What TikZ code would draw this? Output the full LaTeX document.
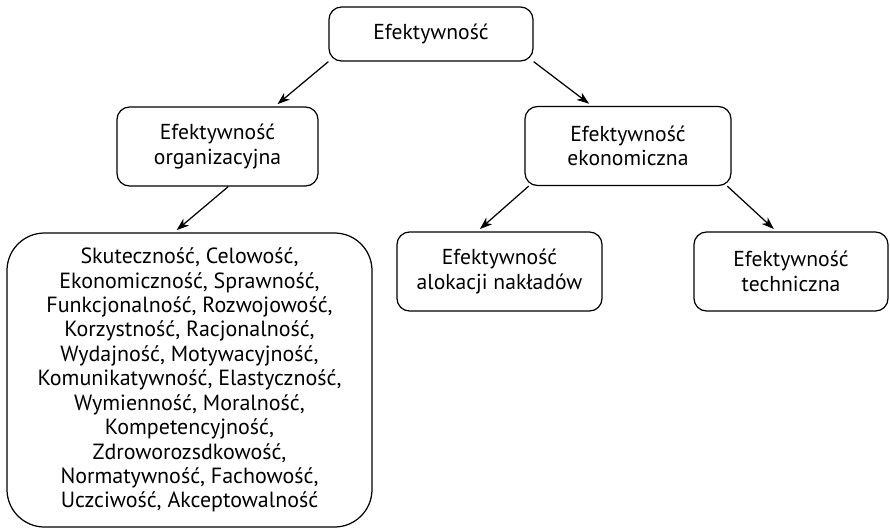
\documentclass[tikz,border=0pt]{standalone}
\usepackage{fontspec}
\setmainfont{PT Sans}
\usetikzlibrary{arrows.meta}
\begin{document}
\begin{tikzpicture}[
		box/.style={draw, line width=0.7pt, rounded corners=0.25cm, align=center, inner sep=0pt,
			minimum width=4.1cm, minimum height=1.58cm, font=\fontsize{12.3}{14}\selectfont},
		>={Stealth[length=7pt, width=5pt, inset=2pt]}
	]
		\useasboundingbox (0,0) rectangle (17.8,-10.58);
		
		\node[box, minimum width=4.08cm, minimum height=1.08cm] (ef) at (8.62,-0.68) {Efektywność};
		\node[box, minimum width=4.02cm] (org) at (4.35,-2.93) {Efektywność\\organizacyjna};
		\node[box, minimum width=4.12cm] (eko) at (12.56,-2.92) {Efektywność\\ekonomiczna};
		\node[box, minimum width=4.1cm] (alok) at (9.99,-5.43) {Efektywność\\alokacji nakładów};
		\node[box, minimum width=3.88cm] (tech) at (15.82,-5.43) {Efektywność\\techniczna};
		\node[box, rounded corners=0.75cm, minimum width=7.3cm, minimum height=5.88cm,
			font=\fontsize{12.5}{13.9}\selectfont] (cechy) at (3.79,-7.6)
			{Skuteczność, Celowość,\\Ekonomiczność, Sprawność,\\Funkcjonalność, Rozwojowość,\\
			Korzystność, Racjonalność,\\Wydajność, Motywacyjność,\\Komunikatywność, Elastyczność,\\
			Wymienność, Moralność,\\Kompetencyjność,\\Zdroworozsdkowość,\\
			Normatywność, Fachowość,\\Uczciwość, Akceptowalność};
		
		\draw[line width=0.7pt, ->, shorten >=2pt] (ef.south west) -- (org.35);
		\draw[line width=0.7pt, ->, shorten >=2pt] (ef.south east) -- (eko.132);
		\draw[line width=0.7pt, ->, shorten >=2pt] (org.-75) -- (cechy.96);
		\draw[line width=0.7pt, ->, shorten >=2pt] (eko.-158) -- (alok.119);
		\draw[line width=0.7pt, ->, shorten >=2pt] (eko.-22) -- (tech.110);
	\end{tikzpicture}
\end{document}
